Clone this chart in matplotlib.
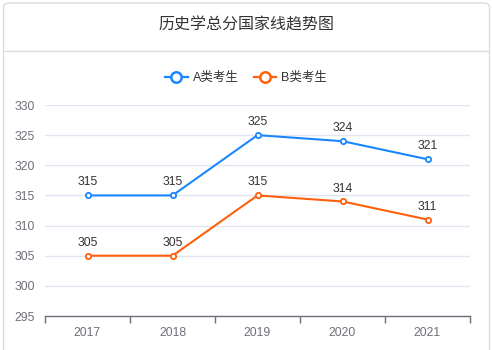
import matplotlib
matplotlib.use("Agg")
import matplotlib.pyplot as plt
from matplotlib.patches import FancyBboxPatch
from matplotlib.lines import Line2D

years = ["2017", "2018", "2019", "2020", "2021"]
series_a = [315, 315, 325, 324, 321]
series_b = [305, 305, 315, 314, 311]
names = ["A类考生", "B类考生"]
yticks = [295, 300, 305, 310, 315, 320, 325, 330]
title = "历史学总分国家线趋势图"

FONT = ["Liberation Sans", "Noto Sans CJK SC", "DejaVu Sans"]
plt.rcParams["font.family"] = FONT

W, H = 492, 350
fig = plt.figure(figsize=(W / 100, H / 100), dpi=100)
fig.patch.set_facecolor("white")

# card
card = FancyBboxPatch((3.5 / W, -10 / H), (486 / W), (357 / H),
                      boxstyle="round,pad=0,rounding_size=0.012",
                      transform=fig.transFigure, facecolor="none",
                      edgecolor="#dcdcdc", linewidth=1.0, zorder=-10)
fig.patches.append(card)
fig.add_artist(Line2D([4 / W, 489 / W], [1 - 50.5 / H, 1 - 50.5 / H],
                      transform=fig.transFigure, color="#dcdcdc", lw=1.0, zorder=-10))
fig.text(246 / W, 1 - 25 / H, title, ha="center", va="center",
         fontsize=11.5, color="#333333", family=FONT)

left, right, top, bottom = 45, 470, 105, 316
ax = fig.add_axes([left / W, 1 - bottom / H, (right - left) / W, (bottom - top) / H])
ax.set_facecolor("none")
ax.set_zorder(5)

blue = "#1a86ff"
orange = "#ff600d"
x = list(range(len(years)))
for vals, col in ((series_a, blue), (series_b, orange)):
    ax.plot(x, vals, color=col, lw=1.5, marker="o", ms=3.8,
            mfc="white", mec=col, mew=1.3, zorder=3, clip_on=False)
    for xi, v in zip(x, vals):
        ax.annotate(str(v), (xi, v), xytext=(0, 5), textcoords="offset points",
                    ha="center", va="bottom", fontsize=8.8, color="#333333")

ax.set_xlim(-0.5, len(years) - 0.5)
ax.set_ylim(295, 330)
ax.set_yticks(yticks)
ax.set_yticklabels([str(t) for t in yticks])
ax.set_xticks(x)
ax.set_xticklabels(years)
ax.set_xticks([i - 0.5 for i in range(len(years) + 1)], minor=True)
ax.tick_params(axis="x", which="major", length=0, pad=8, labelsize=8.8, labelcolor="#6e7079")
ax.tick_params(axis="x", which="minor", length=5, width=1, color="#6e7079", direction="out")
ax.tick_params(axis="y", length=0, pad=7, labelsize=8.8, labelcolor="#6e7079")
for s in ("top", "right", "left"):
    ax.spines[s].set_visible(False)
ax.spines["bottom"].set_color("#6e7079")
ax.spines["bottom"].set_linewidth(1.0)
ax.yaxis.grid(True, color="#e0e6f1", lw=1.0)
ax.set_axisbelow(True)

handles = [Line2D([], [], color=c, lw=1.6, marker="o", ms=7.5, mfc="white", mec=c, mew=1.8)
           for c in (blue, orange)]
fig.legend(handles, names, loc="center", bbox_to_anchor=(246 / W, 1 - 78 / H),
           ncol=2, frameon=False, fontsize=9, handlelength=1.8,
           handletextpad=0.4, columnspacing=1.2, labelcolor="#333333")

fig.savefig("out.png", dpi=100)
